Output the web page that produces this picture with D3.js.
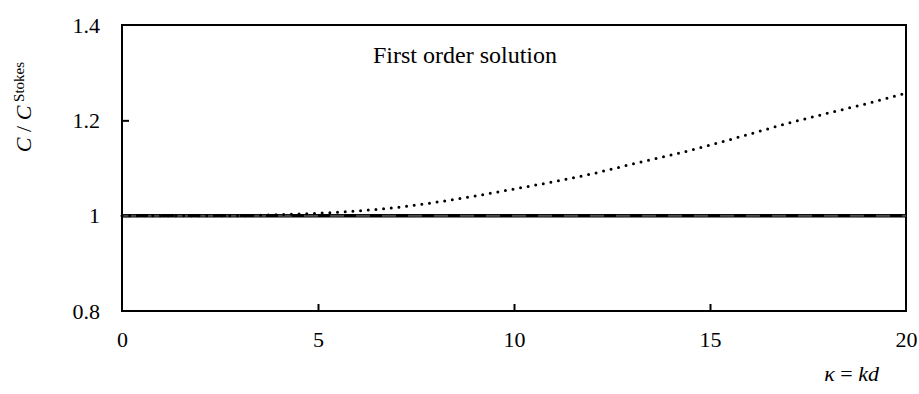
<!DOCTYPE html>
<html>
<head>
<meta charset="utf-8">
<script src="https://cdn.jsdelivr.net/npm/d3@7"></script>
<style>
  body { margin: 0; background: #fff; }
</style>
</head>
<body>
<div id="chart"></div>
<script>
var serif = "Liberation Serif";

// kappa = kd values along x
var kappa = [0, 1, 2, 3, 4, 5, 6, 7, 8, 9, 10, 11, 12, 13, 14, 15, 16, 17, 18, 19, 20];
// first order solution, C / C_Stokes (dotted)
var firstOrder = [1.000, 1.000, 1.000, 1.000, 1.002, 1.005, 1.010, 1.017, 1.028, 1.041, 1.056,
                  1.071, 1.088, 1.108, 1.127, 1.148, 1.171, 1.194, 1.215, 1.235, 1.257];
// reference lines at 1 (solid and dashed)
var exactSol = [1, 1, 1, 1, 1, 1, 1, 1, 1, 1, 1, 1, 1, 1, 1, 1, 1, 1, 1, 1, 1];
var stokesSol = [1, 1, 1, 1, 1, 1, 1, 1, 1, 1, 1, 1, 1, 1, 1, 1, 1, 1, 1, 1, 1];
var xTicks = [0, 5, 10, 15, 20];
var yTicks = [0.8, 1, 1.2, 1.4];

var width = 919, height = 394;
var margin = { left: 122, right: 13, top: 25, bottom: 83 };

var svg = d3.select("#chart").append("svg")
  .attr("width", width)
  .attr("height", height);

var xScale = d3.scaleLinear().domain([0, 20]).range([margin.left, width - margin.right]);
var yScale = d3.scaleLinear().domain([0.8, 1.4]).range([height - margin.bottom, margin.top]);

// plot frame
svg.append("rect")
  .attr("x", xScale(0))
  .attr("y", yScale(1.4))
  .attr("width", xScale(20) - xScale(0))
  .attr("height", yScale(0.8) - yScale(1.4))
  .attr("fill", "none")
  .attr("stroke", "#000")
  .attr("stroke-width", 2);

// x axis: inner ticks, labels below
var xAxis = svg.append("g")
  .attr("transform", "translate(0," + yScale(0.8) + ")")
  .call(d3.axisBottom(xScale).tickValues(xTicks).tickSize(-7).tickPadding(20)
          .tickFormat(d3.format("d")));
xAxis.select(".domain").remove();
xAxis.selectAll(".tick line").attr("stroke", "#000").attr("stroke-width", 2)
  .filter(function(d) { return d === 0 || d === 20; }).remove();
xAxis.selectAll("text").style("font-family", serif).style("font-size", "22px").attr("fill", "#000");

// y axis: inner ticks, labels left
var yAxis = svg.append("g")
  .attr("transform", "translate(" + xScale(0) + ",0)")
  .call(d3.axisLeft(yScale).tickValues(yTicks).tickSize(-7).tickPadding(22)
          .tickFormat(function(d) { return d === 1 ? "1" : d3.format(".1f")(d); }));
yAxis.select(".domain").remove();
yAxis.selectAll(".tick line").attr("stroke", "#000").attr("stroke-width", 2)
  .filter(function(d) { return d === 0.8 || d === 1.4; }).remove();
yAxis.selectAll("text").style("font-family", serif).style("font-size", "22px").attr("fill", "#000");

function seriesData(ys) {
  return kappa.map(function(k, i) { return { k: k, v: ys[i] }; });
}

var line = d3.line()
  .curve(d3.curveMonotoneX)
  .x(function(d) { return xScale(d.k); })
  .y(function(d) { return yScale(d.v); });

// solid line at 1
svg.append("path")
  .attr("d", line(seriesData(exactSol)))
  .attr("fill", "none")
  .attr("stroke", "#000")
  .attr("stroke-width", 3.5);

// dashed gray over it
svg.append("path")
  .attr("d", line(seriesData(stokesSol)))
  .attr("fill", "none")
  .attr("stroke", "#4a4a4a")
  .attr("stroke-width", 2)
  .attr("stroke-dasharray", "14,12");

// dotted first order curve
svg.append("path")
  .attr("d", line(seriesData(firstOrder)))
  .attr("fill", "none")
  .attr("stroke", "#000")
  .attr("stroke-width", 3)
  .attr("stroke-linecap", "round")
  .attr("stroke-dasharray", "0,7.7");

// annotation
svg.append("text")
  .attr("x", 373)
  .attr("y", 63)
  .style("font-family", serif)
  .style("font-size", "24px")
  .text("First order solution");

// y label
var yl = svg.append("text")
  .attr("transform", "translate(31,107) rotate(-90)")
  .attr("text-anchor", "middle")
  .style("font-family", serif)
  .style("font-size", "22px");
yl.append("tspan").style("font-style", "italic").text("C");
yl.append("tspan").text(" / ");
yl.append("tspan").style("font-style", "italic").text("C");
yl.append("tspan").style("font-size", "15px").attr("dy", -7).text(" Stokes");

// x label
var xl = svg.append("text")
  .attr("x", 879)
  .attr("y", 381)
  .attr("text-anchor", "end")
  .style("font-family", serif)
  .style("font-size", "22px");
xl.append("tspan").style("font-style", "italic").text("κ");
xl.append("tspan").text(" = ");
xl.append("tspan").style("font-style", "italic").text("kd");
</script>
</body>
</html>
